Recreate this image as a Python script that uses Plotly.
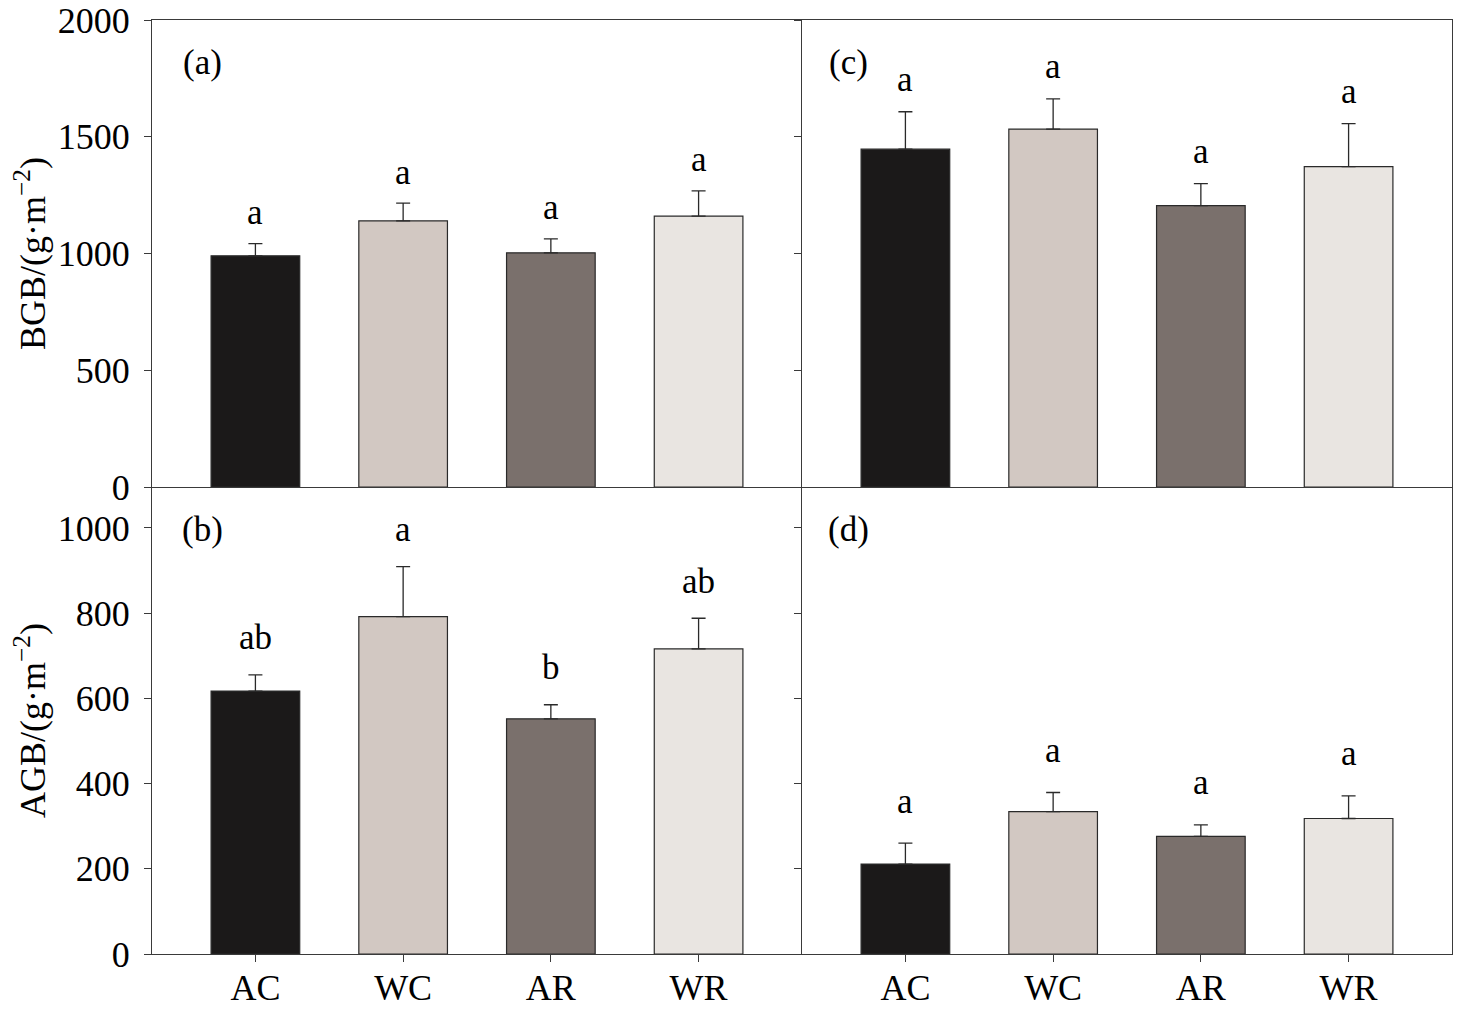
import plotly.graph_objects as go
from plotly.subplots import make_subplots

categories = ["AC", "WC", "AR", "WR"]
colors = ["#1b1919", "#d2c8c2", "#7a706c", "#e9e5e1"]

# panel (a) BGB, panel (c) BGB, panel (b) AGB, panel (d) AGB
bgb_a = [990, 1140, 1003, 1160]
bgb_a_err = [52, 76, 60, 108]
bgb_a_letters = ["a", "a", "a", "a"]

bgb_c = [1447, 1533, 1205, 1372]
bgb_c_err = [160, 129, 94, 184]
bgb_c_letters = ["a", "a", "a", "a"]

agb_b = [617, 792, 552, 716]
agb_b_err = [38, 117, 33, 72]
agb_b_letters = ["ab", "a", "b", "ab"]

agb_d = [211, 334, 276, 318]
agb_d_err = [49, 45, 27, 53]
agb_d_letters = ["a", "a", "a", "a"]

panel_names = ["(a)", "(c)", "(b)", "(d)"]

FONT = "Liberation Serif"
LINE = "#3a3a3a"

fig = make_subplots(rows=2, cols=2, horizontal_spacing=0, vertical_spacing=0)

panels = [
    (1, 1, bgb_a, bgb_a_err, bgb_a_letters, 31),
    (1, 2, bgb_c, bgb_c_err, bgb_c_letters, 32),
    (2, 1, agb_b, agb_b_err, agb_b_letters, 37),
    (2, 2, agb_d, agb_d_err, agb_d_letters, 42),
]

for idx, (r, c, vals, errs, letters, shift) in enumerate(panels):
    fig.add_trace(
        go.Bar(
            x=categories,
            y=vals,
            width=0.6,
            marker=dict(color=colors, line=dict(color="#2a2a2a", width=1.2)),
            error_y=dict(type="data", array=errs, arrayminus=[0] * len(errs),
                         symmetric=False, color="#2a2a2a", thickness=1.3, width=7),
            showlegend=False,
            hoverinfo="skip",
        ),
        row=r, col=c,
    )
    n = idx + 1
    xref = "x" if n == 1 else f"x{n}"
    yref = "y" if n == 1 else f"y{n}"
    for cat, v, e, t in zip(categories, vals, errs, letters):
        fig.add_annotation(
            x=cat, y=v + e, xref=xref, yref=yref, text=t, showarrow=False,
            yshift=shift, yanchor="middle",
            font=dict(family=FONT, size=35, color="black"),
        )
    fig.add_annotation(
        x=0.077 if c == 1 else 0.072, y=0.91, xref=f"{xref} domain", yref=f"{yref} domain",
        text=panel_names[idx], showarrow=False, xanchor="center", yanchor="middle",
        font=dict(family=FONT, size=35, color="black"),
    )

axis_common = dict(showline=True, linecolor=LINE, linewidth=1.3,
                   showgrid=False, zeroline=False, automargin=False,
                   ticklabeloverflow="allow",
                   tickfont=dict(family=FONT, size=36, color="black"))

for r in (1, 2):
    for c in (1, 2):
        fig.update_xaxes(range=[-0.7, 3.7], row=r, col=c, **axis_common,
                         mirror=(r == 1),
                         ticks="outside" if r == 2 else "", ticklen=7, tickwidth=1.3,
                         tickcolor=LINE, ticklabelstandoff=-5,
                         showticklabels=(r == 2))
        if r == 1:
            fig.update_yaxes(range=[0, 2000], tickvals=[0, 500, 1000, 1500, 2000],
                             row=r, col=c, **axis_common, mirror=(c == 2))
        else:
            fig.update_yaxes(range=[0, 1096], tickvals=[0, 200, 400, 600, 800, 1000],
                             row=r, col=c, **axis_common, mirror=(c == 2))
        fig.update_yaxes(ticks="outside", ticklen=7, tickwidth=1.3, tickcolor=LINE,
                         ticklabelstandoff=7,
                         showticklabels=(c == 1), row=r, col=c)

fig.update_yaxes(title=dict(text="BGB/(g·m<sup>−2</sup>)", font=dict(family=FONT, size=36, color="black"),
                            standoff=8), row=1, col=1)
fig.update_yaxes(title=dict(text="AGB/(g·m<sup>−2</sup>)", font=dict(family=FONT, size=36, color="black"),
                            standoff=8), row=2, col=1)

fig.update_layout(
    width=1446, height=996,
    margin=dict(l=144, r=2, t=12, b=50),
    plot_bgcolor="white", paper_bgcolor="white",
    font=dict(family=FONT, color="black"),
)

fig.write_html("out.html")
